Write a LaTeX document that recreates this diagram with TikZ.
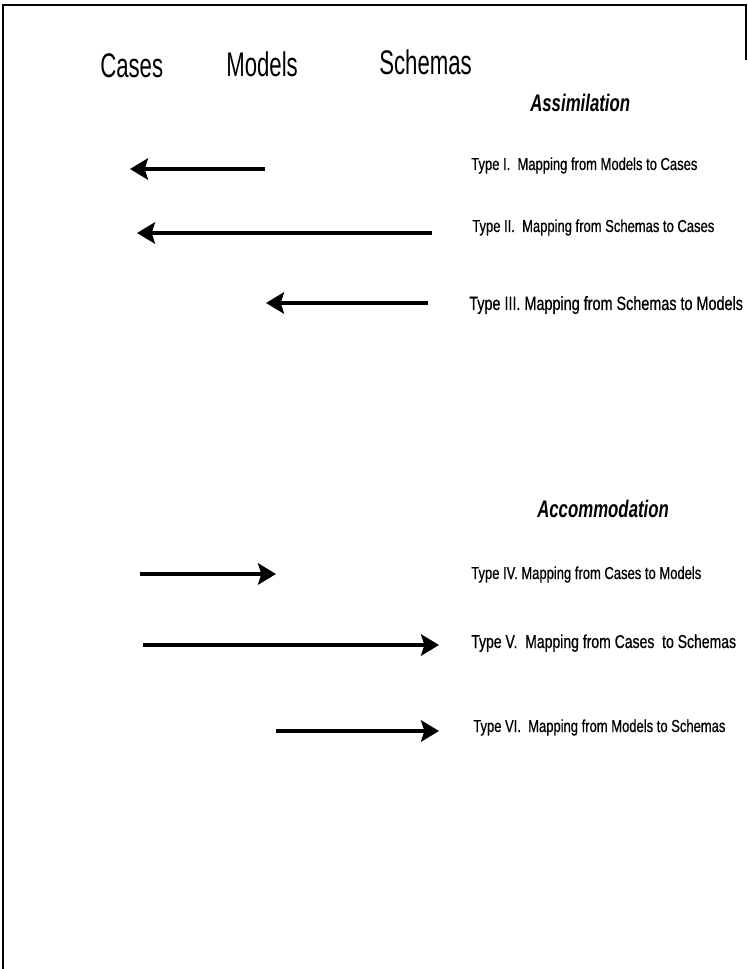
\documentclass[tikz,border=0pt]{standalone}
\usepackage{fontspec}
\setmainfont{Liberation Sans}
\newfontfamily\headfont[FakeStretch=0.65]{Liberation Sans}
\newfontfamily\typefont[FakeStretch=0.75, FakeBold=0.6]{Liberation Sans}
\newfontfamily\titlefont[FakeStretch=0.7]{Liberation Sans}
\usetikzlibrary{arrows.meta, positioning}
\tikzstyle{heading} = [anchor=base west, inner sep=0pt, font=\headfont\fontsize{25.6pt}{28pt}\selectfont]
\tikzstyle{title} = [anchor=base west, inner sep=0pt, font=\titlefont\fontsize{18pt}{20pt}\selectfont\bfseries\itshape]
\tikzstyle{typelabel} = [anchor=base west, inner sep=0pt, font=\typefont\fontsize{13pt}{15pt}\selectfont]
\tikzstyle{map} = [line width=3pt, -{Stealth[length=13.5pt, width=16pt, inset=2.5pt]}]
\tikzstyle{frame} = [line width=0.8pt]

\begin{document}
\begin{tikzpicture}[x=0.75pt, y=-0.75pt]
    \useasboundingbox (0,0) rectangle (747,969);

    % Frame
    \coordinate (tl) at (3,5);
    \coordinate (tr) at (746,5);
    \coordinate (bl) at (3,969);
    \coordinate (rt) at (746,60);
    \draw [frame] (bl) -- (tl) -- (tr) -- (rt);

    % Column headings
    \node [heading] (cases) at (100,78) {Cases};
    \node [heading] (models) at (226,77) {Models};
    \node [heading] (schemas) at (379,75) {Schemas};

    % Assimilation
    \node [title] (assim) at (530,112) {Assimilation};
    \node [typelabel] (t1) at (471,170) {Type I.\ \ Mapping from Models to Cases};
    \node [typelabel] (t2) at (472,232) {Type II.\ \ Mapping from Schemas to Cases};
    \node [typelabel, font=\typefont\fontsize{14.4pt}{16pt}\selectfont] (t3) at (469,310) {Type III. Mapping from Schemas to Models};

    % Accommodation
    \node [title] (accom) at (537,517) {Accommodation};
    \node [typelabel] (t4) at (471,579) {Type IV. Mapping from Cases to Models};
    \node [typelabel, font=\typefont\fontsize{14pt}{16pt}\selectfont] (t5) at (471,648) {Type V.\ \ Mapping from Cases\ \ to Schemas};
    \node [typelabel] (t6) at (473,732) {Type VI.\ \ Mapping from Models to Schemas};

    % Arrow ends
    \coordinate (m1) at (265,169);
    \coordinate (c1) at (130,169);
    \coordinate (s2) at (432,233);
    \coordinate (c2) at (137,233);
    \coordinate (s3) at (428,303);
    \coordinate (m3) at (266,303);
    \coordinate (c4) at (140,574);
    \coordinate (m4) at (276,574);
    \coordinate (c5) at (143,645);
    \coordinate (s5) at (439,645);
    \coordinate (m6) at (276,731);
    \coordinate (s6) at (439,731);

    % Mappings
    \draw [map] (m1) -- (c1);
    \draw [map] (s2) -- (c2);
    \draw [map] (s3) -- (m3);
    \draw [map] (c4) -- (m4);
    \draw [map] (c5) -- (s5);
    \draw [map] (m6) -- (s6);
\end{tikzpicture}
\end{document}
